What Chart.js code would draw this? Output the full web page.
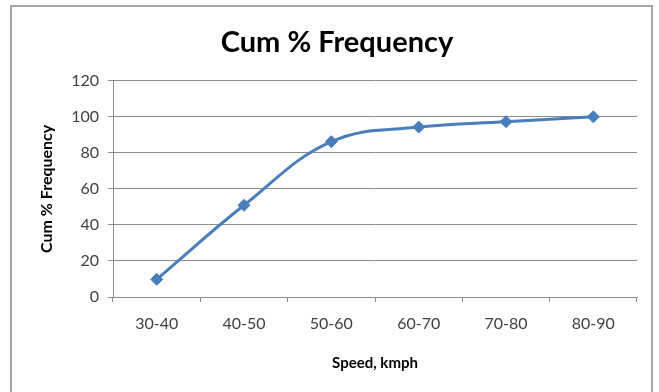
<!DOCTYPE html>
<html>
<head>
<meta charset="utf-8">
<script src="https://cdn.jsdelivr.net/npm/chart.js@4"></script>
<style>
  html, body { margin: 0; padding: 0; background: #fff; }
  #wrap { position: relative; width: 659px; height: 392px; overflow: hidden; }
  #frame { position: absolute; left: 10px; top: 5px; width: 643px; height: 400px;
           border: 2px solid #a6a6a6; box-sizing: border-box; pointer-events: none; }
  canvas { position: absolute; left: 0; top: 0; }
</style>
</head>
<body>
<div id="wrap">
  <div id="frame"></div>
  <canvas id="cumChart" width="659" height="392"></canvas>
</div>
<script>
// chart data
var speedClasses = ['30-40', '40-50', '50-60', '60-70', '70-80', '80-90'];
var cumPercent = [9.8, 50.9, 86.2, 94.3, 97.3, 100];
var yTicks = [0, 20, 40, 60, 80, 100, 120];

var fontFamily = 'Lato, "Open Sans", sans-serif';

var ctx = document.getElementById('cumChart').getContext('2d');
var cumChart = new Chart(ctx, {
    type: 'line',
    data: {
        labels: speedClasses,
        datasets: [{
            label: 'Cum % Frequency',
            data: cumPercent,
            borderColor: '#4a7ebb',
            backgroundColor: '#4a7ebb',
            borderWidth: 3,
            tension: 0.4,
            pointStyle: 'rectRot',
            pointRadius: 6,
            pointBorderWidth: 1,
            fill: false
        }]
    },
    options: {
        responsive: false,
        animation: false,
        layout: {
            padding: { left: 37, right: 22, top: 0, bottom: 20 }
        },
        plugins: {
            legend: { display: false },
            tooltip: { enabled: false },
            title: {
                display: true,
                text: 'Cum % Frequency',
                color: '#000',
                font: { family: fontFamily, size: 29, weight: 'bold', lineHeight: 1.2 },
                padding: { top: 25, bottom: 21 }
            }
        },
        scales: {
            x: {
                offset: true,
                grid: {
                    offset: true,
                    drawOnChartArea: false,
                    drawTicks: true,
                    tickLength: 5,
                    color: '#8c8c8c'
                },
                border: { color: '#8c8c8c', width: 1 },
                ticks: {
                    color: '#404040',
                    padding: 12,
                    font: { family: fontFamily, size: 16 }
                },
                title: {
                    display: true,
                    text: 'Speed, kmph',
                    color: '#000',
                    font: { family: fontFamily, size: 15, weight: 'bold' },
                    padding: { top: 10, bottom: 0 }
                },
                afterFit: function(scale) {
                    scale.height = 75;
                }
            },
            y: {
                min: 0,
                max: 120,
                afterBuildTicks: function(scale) {
                    scale.ticks = yTicks.map(function(v) { return { value: v }; });
                },
                grid: {
                    color: '#8c8c8c',
                    drawTicks: true,
                    tickLength: 5
                },
                border: { color: '#8c8c8c', width: 1 },
                ticks: {
                    color: '#404040',
                    padding: 9,
                    font: { family: fontFamily, size: 16 }
                },
                title: {
                    display: true,
                    text: 'Cum % Frequency',
                    color: '#000',
                    font: { family: fontFamily, size: 16, weight: 'bold' },
                    padding: { top: 0, bottom: 6 }
                },
                afterFit: function(scale) {
                    scale.width = 76;
                }
            }
        }
    }
});
</script>
</body>
</html>
